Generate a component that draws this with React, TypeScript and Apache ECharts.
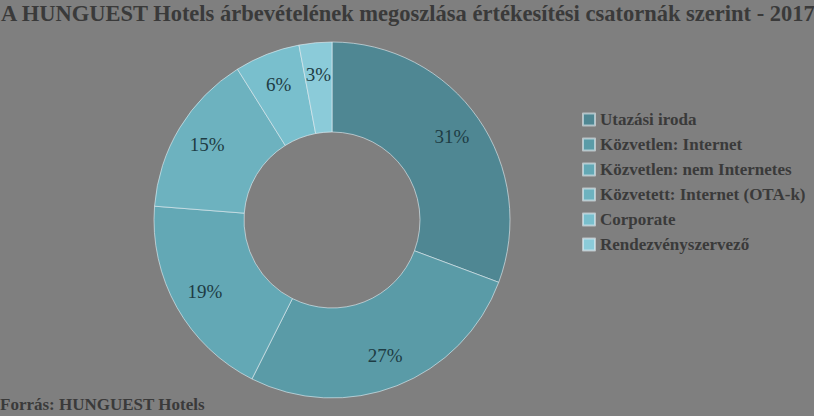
import React, { useEffect, useRef } from "react";
import * as echarts from "echarts";

const categories = [
  "Utazási iroda",
  "Közvetlen: Internet",
  "Közvetlen: nem Internetes",
  "Közvetett: Internet (OTA-k)",
  "Corporate",
  "Rendezvényszervező",
];
const values = [31, 27, 19, 15, 6, 3];
const colors = ["#4f8793", "#5a9ba7", "#63a8b5", "#6db2bf", "#79bfcd", "#8bcbd9"];
const titleText = "A HUNGUEST Hotels árbevételének megoszlása értékesítési csatornák szerint - 2017";
const sourceText = "Forrás: HUNGUEST Hotels";

const SERIF = "Liberation Serif";

export default function App() {
  const ref = useRef<HTMLDivElement>(null);
  useEffect(() => {
    const chart = echarts.init(ref.current!, null, { renderer: "svg" });
    chart.setOption({
      animation: false,
      backgroundColor: "#7f7f7f",
      textStyle: { fontFamily: SERIF },
      title: [
        {
          text: titleText,
          left: 1,
          top: 2,
          padding: [0, 0, 0, 0],
          textStyle: {
            fontFamily: SERIF,
            fontWeight: "bold",
            fontSize: 22.5,
            color: "#3a3a3a",
          },
        },
        {
          text: sourceText,
          left: 0,
          top: 396,
          padding: [0, 0, 0, 0],
          textStyle: {
            fontFamily: SERIF,
            fontWeight: "bold",
            fontSize: 17,
            color: "#3a3a3a",
          },
        },
      ],
      legend: {
        orient: "vertical",
        left: 582,
        top: 111,
        padding: 0,
        itemWidth: 12,
        itemHeight: 12,
        itemGap: 8,
        icon: "rect",
        data: categories,
        textStyle: {
          fontFamily: SERIF,
          fontWeight: "bold",
          fontSize: 17,
          lineHeight: 17,
          color: "#3a3a3a",
        },
      },
      series: [
        {
          type: "pie",
          center: [332, 220],
          radius: [88, 178],
          startAngle: 90,
          clockwise: true,
          data: categories.map((name, i) => ({
            name,
            value: values[i],
            itemStyle: { color: colors[i] },
          })),
          itemStyle: { borderColor: "rgba(230,240,245,0.6)", borderWidth: 1 },
          label: { show: false },
          labelLine: { show: false },
        },
        {
          type: "pie",
          center: [332, 220],
          radius: [110, 176],
          startAngle: 90,
          clockwise: true,
          silent: true,
          legendHoverLink: false,
          data: categories.map((name, i) => ({
            name: name + " ",
            value: values[i],
            itemStyle: { color: "rgba(0,0,0,0)" },
          })),
          label: {
            show: true,
            position: "inside",
            formatter: (p: any) => p.value + "%",
            fontFamily: SERIF,
            fontSize: 19,
            color: "#1e3c44",
          },
          labelLine: { show: false },
        },
      ],
    });
    return () => chart.dispose();
  }, []);
  return (
    <div
      ref={ref}
      style={{ position: "fixed", left: 0, top: 0, width: 814, height: 416 }}
    />
  );
}
